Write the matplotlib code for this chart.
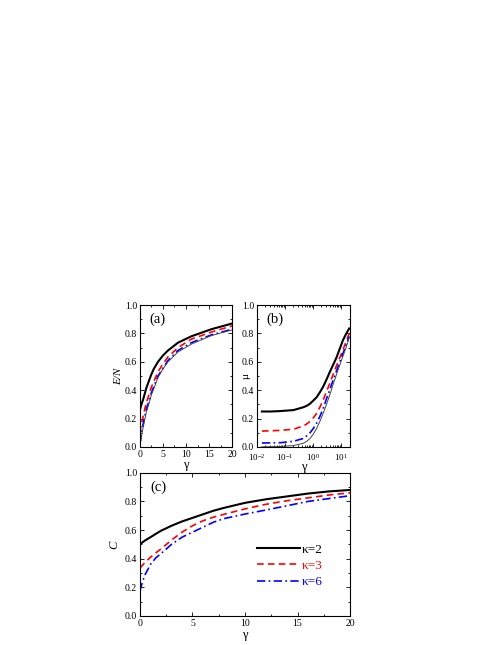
import matplotlib
matplotlib.use("Agg")
import matplotlib.pyplot as plt
from matplotlib.ticker import MultipleLocator, LogLocator, NullFormatter

plt.rcParams["font.family"] = ["Liberation Serif", "DejaVu Serif"]
plt.rcParams["mathtext.fontset"] = "stix"

# ---------------------------------------------------------------- data
# panel (a): E/N vs gamma
gam_a = [0, 0.3, 0.65, 1, 1.38, 2, 2.46, 3, 3.91, 5, 6.09, 8.26, 11.16, 15.5, 20]
en_k2 = [0.26, 0.30, 0.33, 0.37, 0.415, 0.47, 0.51, 0.55, 0.60, 0.645, 0.68,
         0.735, 0.78, 0.83, 0.87]
en_k3 = [0.10, 0.16, 0.21, 0.26, 0.31, 0.373, 0.42, 0.46, 0.53, 0.585, 0.635,
         0.70, 0.76, 0.81, 0.853]
en_k6 = [0.025, 0.09, 0.155, 0.21, 0.265, 0.33, 0.38, 0.425, 0.50, 0.555, 0.61,
         0.68, 0.735, 0.79, 0.83]
en_inf = [0.0, 0.07, 0.13, 0.185, 0.245, 0.31, 0.365, 0.41, 0.49, 0.55, 0.60,
          0.67, 0.725, 0.785, 0.825]

# panel (b): mu vs gamma (log x)
gam_b = [0.015, 0.03, 0.067, 0.2, 0.45, 0.594, 0.78, 1.02, 1.34, 1.75, 2.3,
         3.02, 4.0, 5.18, 6.7, 8.9, 11.7, 15.4, 19.5]
mu_k2 = [0.25, 0.25, 0.253, 0.26, 0.28, 0.29, 0.305, 0.327, 0.35, 0.385, 0.425,
         0.475, 0.53, 0.578, 0.625, 0.69, 0.753, 0.80, 0.835]
mu_k3 = [0.112, 0.114, 0.117, 0.125, 0.148, 0.162, 0.18, 0.205, 0.237, 0.28,
         0.33, 0.39, 0.45, 0.51, 0.567, 0.627, 0.685, 0.745, 0.80]
mu_k6 = [0.028, 0.029, 0.03, 0.04, 0.06, 0.078, 0.10, 0.13, 0.167, 0.215, 0.27,
         0.34, 0.405, 0.47, 0.53, 0.597, 0.66, 0.72, 0.78]
mu_inf = [0.001, 0.002, 0.003, 0.01, 0.026, 0.04, 0.06, 0.09, 0.13, 0.18, 0.237,
          0.30, 0.37, 0.44, 0.505, 0.575, 0.64, 0.705, 0.77]

# panel (c): C vs gamma
gam_c = [0, 0.25, 0.5, 1, 1.5, 2, 3, 4, 5, 6, 7, 8, 10, 12, 14, 16, 18, 20]
c_k2 = [0.50, 0.515, 0.528, 0.55, 0.573, 0.595, 0.63, 0.66, 0.685, 0.71, 0.735,
        0.755, 0.79, 0.815, 0.835, 0.855, 0.87, 0.88]
c_k3 = [0.335, 0.355, 0.375, 0.41, 0.44, 0.468, 0.53, 0.585, 0.63, 0.665, 0.69,
        0.71, 0.748, 0.78, 0.805, 0.825, 0.845, 0.86]
c_k6 = [0.175, 0.24, 0.29, 0.36, 0.405, 0.435, 0.50, 0.55, 0.585, 0.62, 0.655,
        0.68, 0.712, 0.74, 0.77, 0.80, 0.82, 0.84]

labels = ["\u03ba=2", "\u03ba=3", "\u03ba=6"]

styles = [
    dict(color="black", ls="-", lw=1.5),
    dict(color="red", ls=(0, (4, 2.5)), lw=1.2),
    dict(color="blue", ls=(0, (5, 2, 1, 2)), lw=1.2),
]
thin = dict(color="#444444", ls="-", lw=0.7)


def style_axes(ax):
    ax.tick_params(which="both", direction="in", top=True, right=True,
                   labelsize=7, width=0.6, pad=2)
    ax.tick_params(which="major", length=3)
    ax.tick_params(which="minor", length=1.6)
    for s in ax.spines.values():
        s.set_linewidth(0.8)
    ax.set_ylim(0, 1.0)
    ax.yaxis.set_major_locator(MultipleLocator(0.2))
    ax.yaxis.set_minor_locator(MultipleLocator(0.1))
    ax.yaxis.set_major_formatter(plt.FormatStrFormatter("%.1f"))


fig = plt.figure(figsize=(4.98, 6.45), dpi=100)
ax_a = fig.add_axes([0.281, 0.307, 0.185, 0.220])
ax_b = fig.add_axes([0.516, 0.307, 0.187, 0.220])
ax_c = fig.add_axes([0.281, 0.045, 0.422, 0.222])

# (a)
for ys, st in zip([en_k2, en_k3, en_k6], styles):
    ax_a.plot(gam_a, ys, **st)
ax_a.plot(gam_a, en_inf, **thin)
style_axes(ax_a)
ax_a.set_xlim(0, 20)
ax_a.xaxis.set_major_locator(MultipleLocator(5))
ax_a.xaxis.set_minor_locator(MultipleLocator(2.5))
ax_a.set_xlabel("\u03b3", fontsize=9, labelpad=0)
ax_a.set_ylabel("E/N", fontsize=8, style="italic", labelpad=1)
ax_a.text(0.1, 0.9, "(a)", transform=ax_a.transAxes, fontsize=10.5,
          va="center", ha="left")

# (b)
for ys, st in zip([mu_k2, mu_k3, mu_k6], styles):
    ax_b.plot(gam_b, ys, **st)
ax_b.plot(gam_b, mu_inf, **thin)
ax_b.set_xscale("log")
style_axes(ax_b)
ax_b.set_xlim(0.01, 21)
ax_b.xaxis.set_major_locator(LogLocator(base=10, numticks=10))
ax_b.xaxis.set_minor_locator(LogLocator(base=10, subs=range(2, 10), numticks=20))
ax_b.xaxis.set_minor_formatter(NullFormatter())
ax_b.tick_params(axis="x", labelsize=6.5, pad=3.5)
ax_b.set_xlabel("\u03b3", fontsize=9, labelpad=-1)
ax_b.set_ylabel("\u03bc", fontsize=8)
ax_b.yaxis.set_label_coords(-0.07, 0.5)
ax_b.text(0.1, 0.9, "(b)", transform=ax_b.transAxes, fontsize=10.5,
          va="center", ha="left")

# (c)
for ys, st, lab in zip([c_k2, c_k3, c_k6], styles, labels):
    ax_c.plot(gam_c, ys, label=lab, **st)
style_axes(ax_c)
ax_c.set_xlim(0, 20)
ax_c.xaxis.set_major_locator(MultipleLocator(5))
ax_c.xaxis.set_minor_locator(MultipleLocator(2.5))
ax_c.set_xlabel("\u03b3", fontsize=9, labelpad=1)
ax_c.set_ylabel("C", fontsize=9, style="italic", labelpad=3)
ax_c.text(0.05, 0.9, "(c)", transform=ax_c.transAxes, fontsize=10.5,
          va="center", ha="left")
ax_c.legend(loc="center left", bbox_to_anchor=(0.5, 0.35), frameon=False,
            fontsize=9.5, handlelength=3.3, handletextpad=0.1,
            labelspacing=0.3, labelcolor="linecolor")

fig.savefig("out.png", dpi=100)
